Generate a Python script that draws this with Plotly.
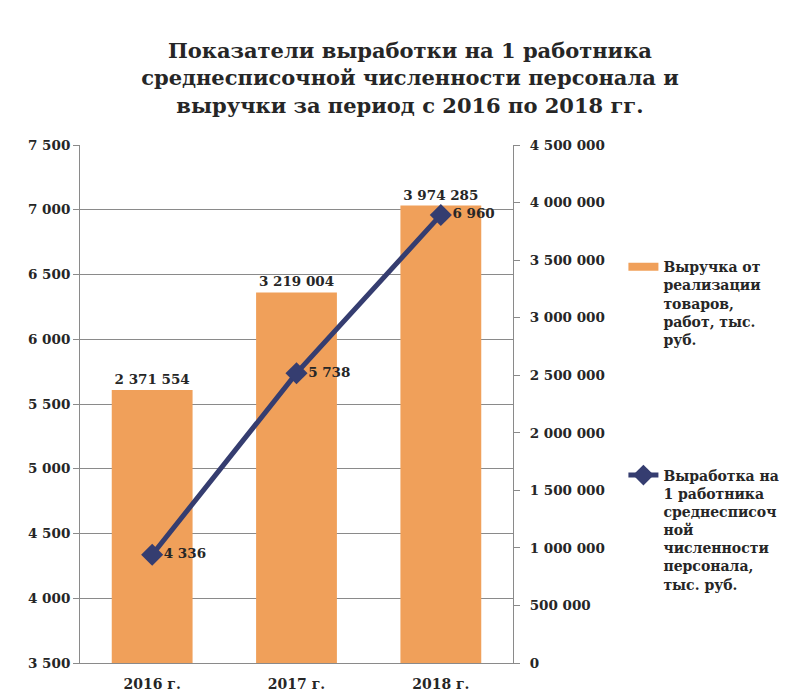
import plotly.graph_objects as go

categories = ["2016 г.", "2017 г.", "2018 г."]
revenue = [2371554, 3219004, 3974285]
productivity = [4336, 5738, 6960]
revenue_name = "Выручка от<br>реализации<br>товаров,<br>работ, тыс.<br>руб."
prod_name = "Выработка на<br>1 работника<br>среднесписоч<br>ной<br>численности<br>персонала,<br>тыс. руб."
title_text = "Показатели выработки на 1 работника<br>среднесписочной численности персонала и<br>выручки за период с 2016 по 2018 гг."

FONT = "DejaVu Serif"
TXT = "#262626"
bar_color = "#F0A05A"
line_color = "#353D70"
AX = "#8a8a8a"

def f(size):
    return dict(family=FONT, size=size, color=TXT, weight=700)

fig = go.Figure()
fig.add_trace(go.Bar(
    x=categories, y=revenue, name=revenue_name, yaxis="y",
    marker=dict(color=bar_color, line=dict(width=0)),
    texttemplate="%{y:,}", textposition="outside", cliponaxis=False,
    textfont=f(13.5), showlegend=False,
))
# legend entry for the bars, drawn as a wide bar swatch
fig.add_trace(go.Scatter(
    x=[None], y=[None], name=revenue_name, yaxis="y", mode="lines",
    line=dict(color=bar_color, width=8), showlegend=True, legend="legend",
))
fig.add_trace(go.Scatter(
    x=categories, y=productivity, name=prod_name, yaxis="y2",
    mode="lines+markers+text",
    line=dict(color=line_color, width=5),
    marker=dict(symbol="diamond", size=17, color=line_color),
    texttemplate="%{y:,}", textposition="middle right", cliponaxis=False,
    textfont=f(13.5), showlegend=True,
    legend="legend2",
))

fig.update_layout(
    width=807, height=697,
    showlegend=True,
    paper_bgcolor="white", plot_bgcolor="white",
    separators=", ",
    font=f(14),
    margin=dict(l=80, r=294, t=145, b=34, autoexpand=False),
    bargap=0.44,
    title=dict(text=title_text, x=0.508, xanchor="center",
               y=1 - 58 / 697, yanchor="top", yref="container",
               font=f(21)),
    xaxis=dict(showline=True, linecolor=AX, linewidth=1, automargin=False,
               ticks="", tickfont=f(14), ticklabelstandoff=8),
    yaxis=dict(side="right", range=[0, 4500000], dtick=500000,
               showgrid=False, showline=True, linecolor=AX, linewidth=1,
               ticks="outside", ticklen=6, tickcolor=AX, automargin=False,
               separatethousands=True, tickformat=",d", ticklabelstandoff=7,
               tickfont=f(13.5), zeroline=False),
    yaxis2=dict(side="left", overlaying="y", range=[3500, 7500], dtick=500,
                showgrid=True, gridcolor=AX, gridwidth=1,
                showline=True, linecolor=AX, linewidth=1, automargin=False,
                ticks="outside", ticklen=6, tickcolor=AX,
                separatethousands=True, tickformat=",d",
                tickfont=f(13.5), zeroline=False),
    legend=dict(x=1.255, y=0.795, xanchor="left", yanchor="top", valign="top",
                bgcolor="rgba(0,0,0,0)", font=f(14)),
    legend2=dict(x=1.255, y=0.393, xanchor="left", yanchor="top", valign="top",
                 bgcolor="rgba(0,0,0,0)", font=f(14)),
)

fig.write_html("out.html", config={"displayModeBar": False},
               post_script="document.body.style.margin='0';")
